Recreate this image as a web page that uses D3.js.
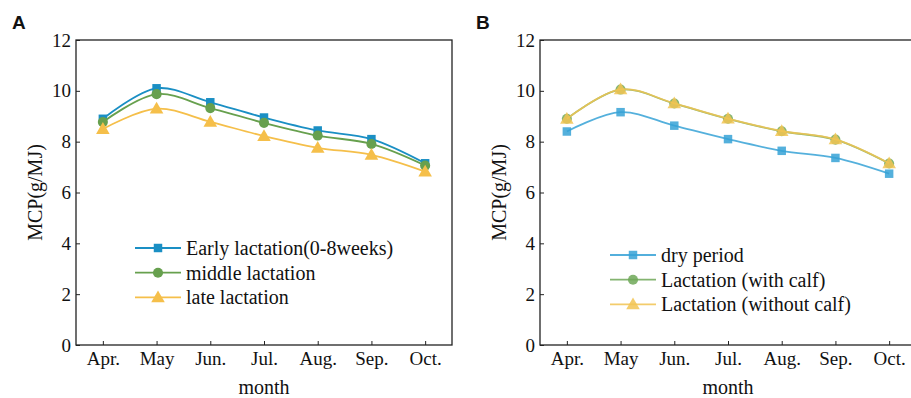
<!DOCTYPE html>
<html lang="en">
<head>
  <meta charset="UTF-8" />
  <title>MCP by month</title>
  <script src="https://d3js.org/d3.v7.min.js"></script>
  <style>
    body {
      margin: 0;
      padding: 0;
      background: #fff;
    }
    svg text {
      font-family: "Liberation Serif", "Times New Roman", serif;
      fill: #111;
    }
    .panel-letter {
      font-family: "Liberation Sans", Arial, sans-serif !important;
      font-weight: bold;
      font-size: 19px;
    }
  </style>
</head>
<body>
  <svg width="911" height="398"></svg>
  <script>
    const months = ["Apr.", "May", "Jun.", "Jul.", "Aug.", "Sep.", "Oct."];
    const yTicks = [0, 2, 4, 6, 8, 10, 12];

    // panel A
    const earlyLactation = [8.9, 10.1, 9.55, 8.95, 8.44, 8.1, 7.15];
    const middleLactation = [8.77, 9.87, 9.32, 8.74, 8.24, 7.91, 7.06];
    const lateLactation = [8.5, 9.3, 8.78, 8.22, 7.76, 7.48, 6.82];

    // panel B
    const dryPeriod = [8.4, 9.16, 8.63, 8.1, 7.64, 7.36, 6.74];
    const withCalf = [8.9, 10.05, 9.5, 8.9, 8.41, 8.08, 7.14];
    const withoutCalf = [8.9, 10.06, 9.51, 8.91, 8.42, 8.09, 7.15];

    const panels = [
      {
        letter: "A", left: 76, right: 452, legendX: 135, legendY: 248, opacity: 1,
        series: [
          { name: "Early lactation(0-8weeks)", values: earlyLactation, color: "#1a8fc4", shape: "square" },
          { name: "middle lactation", values: middleLactation, color: "#67a04e", shape: "circle" },
          { name: "late lactation", values: lateLactation, color: "#f5bf4a", shape: "triangle" }
        ]
      },
      {
        letter: "B", left: 540, right: 916, legendX: 610, legendY: 255, opacity: 0.85,
        series: [
          { name: "dry period", values: dryPeriod, color: "#36a2d6", shape: "square" },
          { name: "Lactation (with calf)", values: withCalf, color: "#6fa858", shape: "circle" },
          { name: "Lactation (without calf)", values: withoutCalf, color: "#f2c452", shape: "triangle" }
        ]
      }
    ];

    const svg = d3.select("svg");
    const plotTop = 40, plotBottom = 345;

    const symbolFor = {
      square: d3.symbol().type(d3.symbolSquare).size(72),
      circle: d3.symbol().type(d3.symbolCircle).size(80),
      triangle: d3.symbol().type(d3.symbolTriangle).size(80)
    };

    panels.forEach(p => {
      const g = svg.append("g");
      const x = d3.scalePoint().domain(months).range([p.left, p.right]).padding(0.5);
      const y = d3.scaleLinear().domain([0, 12]).range([plotBottom, plotTop]);

      g.append("text")
        .attr("class", "panel-letter")
        .attr("x", p.left - 64)
        .attr("y", 29)
        .text(p.letter);

      // frame
      g.append("rect")
        .attr("x", p.left).attr("y", plotTop)
        .attr("width", p.right - p.left).attr("height", plotBottom - plotTop)
        .attr("fill", "none").attr("stroke", "#222").attr("stroke-width", 1.3);

      const xAxis = g.append("g")
        .attr("transform", `translate(0,${plotBottom})`)
        .attr("font-family", "Liberation Serif")
        .call(d3.axisBottom(x).tickSizeInner(-4).tickSizeOuter(0).tickPadding(7));
      xAxis.select(".domain").remove();
      xAxis.selectAll("text").attr("font-size", 19).attr("dy", "0.71em")
        .attr("fill", "#111");
      xAxis.selectAll("line").attr("stroke", "#222");

      const yAxis = g.append("g")
        .attr("transform", `translate(${p.left},0)`)
        .call(d3.axisLeft(y).tickValues(yTicks).tickSizeInner(-4).tickSizeOuter(0).tickPadding(5));
      yAxis.attr("font-family", "Liberation Serif");
      yAxis.select(".domain").remove();
      yAxis.selectAll("text").attr("font-size", 19)
        .attr("fill", "#111");
      yAxis.selectAll("line").attr("stroke", "#222");

      g.append("text")
        .attr("transform", `translate(${p.left - 34},${(plotTop + plotBottom) / 2}) rotate(-90)`)
        .attr("text-anchor", "middle")
        .attr("font-size", 20)
        .text("MCP(g/MJ)");

      g.append("text")
        .attr("x", (p.left + p.right) / 2)
        .attr("y", 394)
        .attr("text-anchor", "middle")
        .attr("font-size", 20)
        .text("month");

      const line = d3.line()
        .x((d, i) => x(months[i]))
        .y(d => y(d))
        .curve(d3.curveCatmullRom.alpha(0.5));

      p.series.forEach(s => {
        g.append("path")
          .attr("d", line(s.values))
          .attr("fill", "none")
          .attr("stroke", s.color)
          .attr("stroke-width", 1.8)
          .attr("opacity", p.opacity);

        g.selectAll(null)
          .data(s.values)
          .join("path")
          .attr("d", symbolFor[s.shape])
          .attr("transform", (d, i) => `translate(${x(months[i])},${y(d) + (s.shape === "triangle" ? 1 : 0)})`)
          .attr("fill", s.color)
          .attr("opacity", p.opacity);
      });

      // legend
      p.series.forEach((s, i) => {
        const ly = p.legendY + i * 24.7;
        const lg = g.append("g").attr("transform", `translate(${p.legendX},${ly})`);
        lg.append("line")
          .attr("x1", 0).attr("x2", 46)
          .attr("stroke", s.color).attr("stroke-width", 1.8)
          .attr("opacity", p.opacity);
        lg.append("path")
          .attr("d", symbolFor[s.shape])
          .attr("transform", `translate(23,${s.shape === "triangle" ? 1 : 0})`)
          .attr("fill", s.color)
          .attr("opacity", p.opacity);
        lg.append("text")
          .attr("x", 51)
          .attr("dy", "0.35em")
          .attr("font-size", 20)
          .text(s.name);
      });
    });
  </script>
</body>
</html>
